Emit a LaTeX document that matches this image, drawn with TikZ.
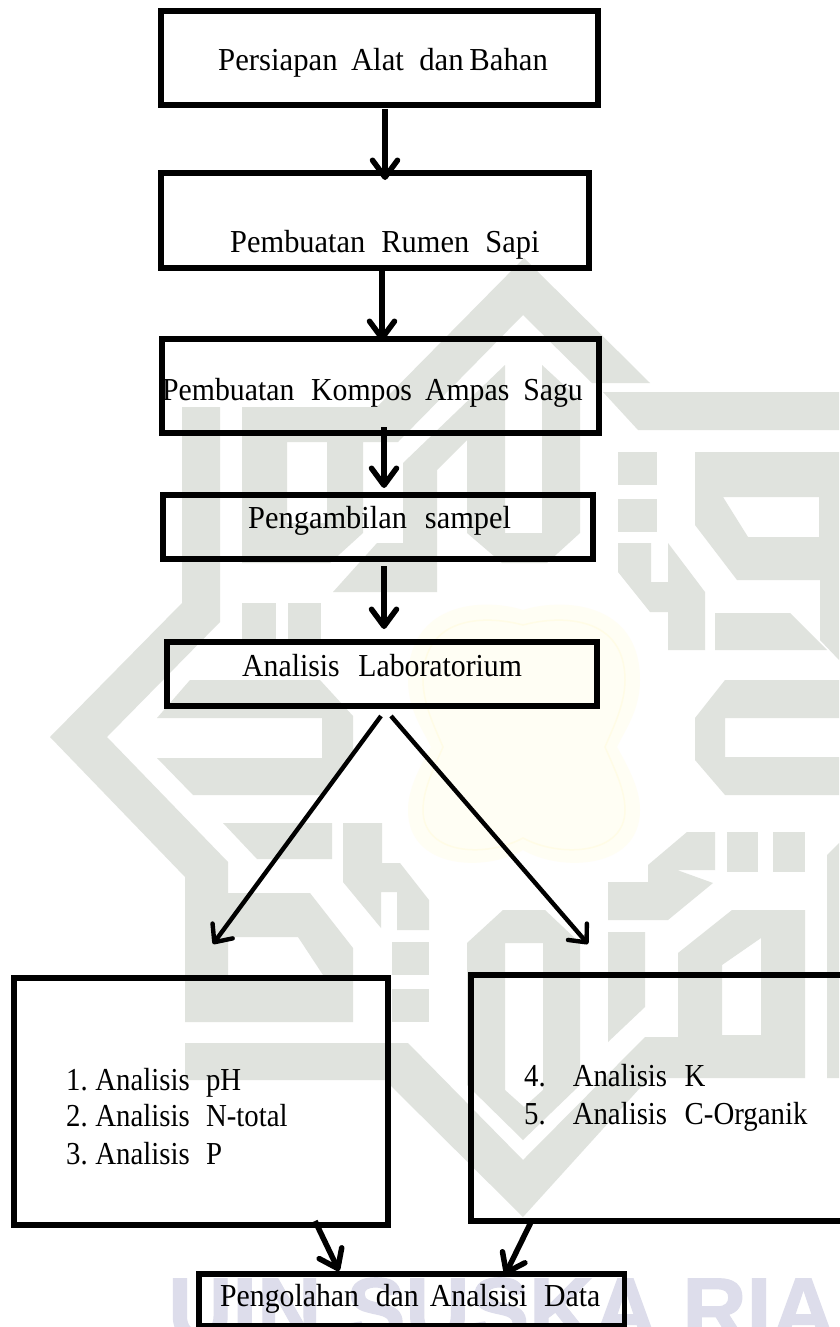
\documentclass[tikz,border=0pt]{standalone}
\usepackage{fontspec}
\usepackage{graphicx}
\setmainfont{Liberation Serif}
\newfontfamily\wmfont[FakeBold=1.5]{Liberation Sans Bold}
\usetikzlibrary{arrows.meta}
\definecolor{wm}{HTML}{E0E3DE}
\definecolor{wmy}{HTML}{FFFEF4}
\definecolor{wmyl}{HTML}{FFFCE6}
\definecolor{wml}{HTML}{DDDDEB}
\tikzset{
  x=1pt,y=-1pt,
  wmark/.style={fill=wm,draw=none},
  box/.style={draw=black,line width=5.2pt,inner sep=0pt,outer sep=0pt,anchor=north west},
  lbl/.style={inner sep=0pt,anchor=base west,font=\fontsize{32}{32}\selectfont},
  arr/.style={draw=black,line width=5.5pt,-{Straight Barb[round,length=17pt,width=25pt,line width=5.5pt]}},
  arrd/.style={draw=black,line width=4.4pt,-{Straight Barb[round,length=14pt,width=25pt,line width=4.4pt]}},
}
\newcommand{\boxat}[5]{\node[box,minimum width=#4-#2,minimum height=#5-#3] (#1) at (#2,#3) {};}
\newcommand{\sx}[2]{\scalebox{#1}[1]{#2}}
\begin{document}
\begin{tikzpicture}
\useasboundingbox (0,0) rectangle (839,1327);
\fill[white] (0,0) rectangle (839,1327);
% watermark: roof, inner U shapes
\fill[wmark,even odd rule] (524,258)--(650,383)--(592,383)--(523,315)--(398,442)--(363,442)--(363,533)--(330,563)--(242,563)--(242,407)--(377,407)--cycle (287,442)--(327,442)--(327,523)--(287,523)--cycle;
\fill[wmark] (603,392)--(839,392)--(839,430)--(638,430)--cycle;
\fill[wmark] (505,365)--(505,533)--(542,533)--(542,365)--(580,400)--(580,533)--(547,563)--(502,563)--(467,533)--(467,440)--(437,470)--(437,592)--(333,592)--(377,543)--(403,543)--(403,463)--cycle;
\fill[wmark] (242,603)--(276,603)--(276,644)--(242,644)--cycle;
\fill[wmark] (288,603)--(321,603)--(321,644)--(288,644)--cycle;
% dots and right hand glyphs
\fill[wmark] (618,452)--(657,452)--(657,485)--(618,485)--cycle;
\fill[wmark] (618,499)--(657,499)--(657,532)--(618,532)--cycle;
\fill[wmark] (618,543)--(651,543)--(651,582)--(668,582)--(668,543)--(705,592)--(705,650)--(668,650)--(668,612)--(650,612)--(618,572)--cycle;
\fill[wmark,even odd rule] (695,452)--(839,452)--(839,660)--(820,640)--(820,580)--(737,580)--(695,525)--cycle (723,497)--(819,497)--(819,537)--(748,537)--cycle;
\fill[wmark] (715,613)--(790,613)--(827,650)--(715,650)--cycle;
\fill[wmark] (725,680)--(839,680)--(839,718)--(725,718)--(725,757)--(839,757)--(839,795)--(725,795)--(695,760)--(695,718)--cycle;
% left chevron and S
\fill[wmark,even odd rule] (182,407)--(220,407)--(220,622)--(107,737)--(228,862)--(228,893)--(310,893)--(353,948)--(353,1022)--(185,1022)--(185,877)--(50,737)--(182,603)--cycle (228,937)--(298,937)--(325,978)--(228,978)--cycle;
\fill[wmark] (190,680)--(320,680)--(353,716)--(353,758)--(325,795)--(193,795)--(157,758)--(322,758)--(322,718)--(157,718)--cycle;
\fill[wmark] (223,823)--(332,823)--(332,859)--(257,859)--cycle;
\fill[wmark] (343,823)--(382,823)--(382,863)--(400,863)--(429,900)--(429,930)--(397,930)--(397,892)--(381,892)--(381,928)--(343,882)--cycle;
\fill[wmark] (392,942)--(429,942)--(429,975)--(392,975)--cycle;
\fill[wmark] (392,989)--(429,989)--(429,1022)--(392,1022)--cycle;
% lower band and V
\fill[wmark,even odd rule] (185,1043)--(408,1043)--(523,1160)--(645,1037)--(678,1037)--(678,953)--(732,910)--(805,910)--(805,1078)--(649,1078)--(523,1217)--(385,1080)--(185,1080)--cycle (761,938)--(722,965)--(722,1035)--(761,1035)--cycle;
\fill[wmark,even odd rule] (467,943)--(503,910)--(545,910)--(580,943)--(580,1085)--(523,1140)--(467,1085)--cycle (505,943)--(543,943)--(543,1090)--(524,1107)--(505,1090)--cycle;
\fill[wmark] (608,882)--(648,882)--(648,865)--(687,832)--(715,832)--(715,870)--(677,870)--(713,883)--(668,920)--(608,920)--cycle;
\fill[wmark] (608,932)--(645,932)--(645,1007)--(608,1042)--cycle;
\fill[wmark] (727,832)--(758,832)--(758,872)--(727,872)--cycle;
\fill[wmark] (773,832)--(805,832)--(805,872)--(773,872)--cycle;
\fill[wmark] (827,855)--(839,843)--(839,1078)--(827,1078)--cycle;
% emblem
\fill[wmy] (523,610) .. controls (560,598) and (640,600) .. (640,680) .. controls (640,710) and (625,730) .. (617,747) .. controls (630,770) and (640,790) .. (640,810) .. controls (640,870) and (560,872) .. (523,850) .. controls (486,872) and (408,870) .. (408,810) .. controls (408,790) and (418,770) .. (431,747) .. controls (423,730) and (408,710) .. (408,680) .. controls (408,600) and (486,598) .. (523,610) -- cycle;
\draw[wmyl,line width=1.5pt] (523,625) .. controls (560,615) and (625,615) .. (625,680) .. controls (625,705) and (612,730) .. (605,747) .. controls (615,770) and (625,790) .. (625,810) .. controls (625,855) and (560,858) .. (523,838) .. controls (486,858) and (423,855) .. (423,810) .. controls (423,790) and (433,770) .. (443,747) .. controls (436,730) and (423,705) .. (423,680) .. controls (423,615) and (486,615) .. (523,625) -- cycle;
\begin{scope}
\clip (0,0) rectangle (839,1327);
\node[inner sep=0pt,anchor=base west,text=wml,font=\wmfont\fontsize{89}{89}\selectfont] (wmtext) at (168,1340) {UIN SUSKA RIAU};
\end{scope}
% boxes
\boxat{b1}{161}{11}{598}{105}
\boxat{b2}{161}{173}{589}{268}
\boxat{b3}{162}{339}{599}{433}
\boxat{b4}{163}{495}{593}{559}
\boxat{b5}{167}{642}{597}{706}
\boxat{b6}{14}{978}{388}{1225}
\boxat{b7}{471}{975}{870}{1221}
\boxat{b8}{199}{1274}{624.5}{1326}
% labels
\node[lbl] (t1) at (218,71) {\sx{.96}{Persiapan\hspace{6pt} Alat\hspace{8pt} dan\hspace{-2pt} Bahan}};
\node[lbl] (t2) at (230,252) {\sx{.95}{Pembuatan\hspace{9pt} Rumen\hspace{9pt} Sapi}};
\node[lbl] (t3) at (162,400) {\sx{.93}{Pembuatan\hspace{10pt} Kompos\hspace{6pt} Ampas\hspace{7pt} Sagu}};
\node[lbl] (t4) at (248,528) {\sx{.95}{Pengambilan\hspace{11pt} sampel}};
\node[lbl] (t5) at (242,676) {\sx{.93}{Analisis\hspace{12pt} Laboratorium}};
\node[lbl] (t61) at (66,1090) {\sx{.9}{1.\hspace{8.5pt}Analisis\hspace{10pt} pH}};
\node[lbl] (t62) at (66,1126) {\sx{.9}{2.\hspace{8.5pt}Analisis\hspace{10pt} N-total}};
\node[lbl] (t63) at (66,1164) {\sx{.9}{3.\hspace{8.5pt}Analisis\hspace{10pt} P}};
\node[lbl] (t71) at (524,1086) {\sx{.9}{4.\hspace{30pt}Analisis\hspace{11.5pt} K}};
\node[lbl] (t72) at (524,1124) {\sx{.9}{5.\hspace{30pt}Analisis\hspace{11.5pt} C-Organik}};
\node[lbl] (t8) at (220,1306) {\sx{.93}{Pengolahan\hspace{10pt} dan\hspace{4pt} Analsisi\hspace{10pt} Data}};
% connectors
\draw[arr] ([shift={(5.5,4)}]b1.south) -- ([shift={(10,7)}]b2.north);
\draw[arr] ([shift={(7,0)}]b2.south) -- ([shift={(1.5,2)}]b3.north);
\draw[arr] ([shift={(3.5,-6)}]b3.south) -- ([shift={(6,-7)}]b4.north);
\draw[arr] ([shift={(6,7)}]b4.south) -- ([shift={(2,-13)}]b5.north);
\draw[arrd] ([shift={(-1,10)}]b5.south) -- ([shift={(12,-34)}]b6.north);
\draw[arrd] ([shift={(9,10)}]b5.south) -- ([shift={(-82.5,-31)}]b7.north);
\draw[arr] ([shift={(114,-4)}]b6.south) -- ([shift={(-72.75,-3)}]b8.north);
\draw[arr] ([shift={(-138.5,-1)}]b7.south) -- ([shift={(93.25,1)}]b8.north);
\end{tikzpicture}
\end{document}
